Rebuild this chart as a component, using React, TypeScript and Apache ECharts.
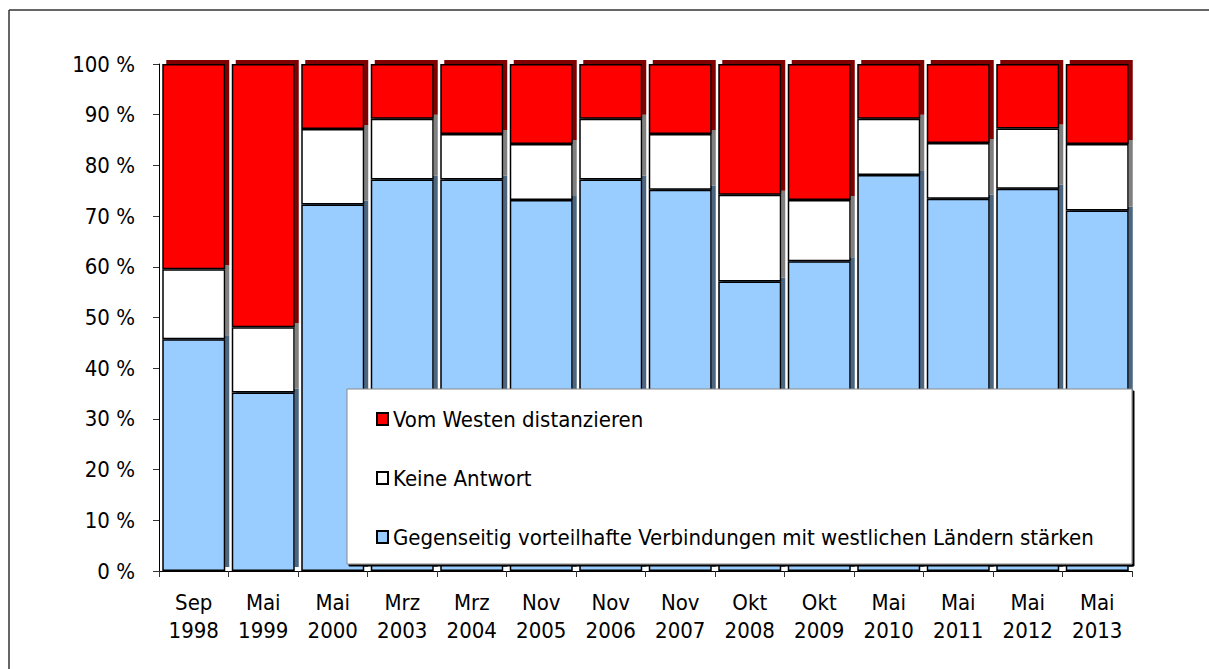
import React, { useEffect, useRef } from "react";
import * as echarts from "echarts";

const categories = [
  "Sep\n1998", "Mai\n1999", "Mai\n2000", "Mrz\n2003", "Mrz\n2004", "Nov\n2005", "Nov\n2006",
  "Nov\n2007", "Okt\n2008", "Okt\n2009", "Mai\n2010", "Mai\n2011", "Mai\n2012", "Mai\n2013",
];
const staerken = [45.7, 35.2, 72.3, 77.2, 77.2, 73.2, 77.2, 75.2, 57.1, 61.1, 78.1, 73.4, 75.4, 71.1];
const keineAntwort = [13.8, 12.9, 14.9, 12.0, 9.0, 11.0, 12.0, 11.0, 17.1, 12.1, 11.1, 11.0, 11.9, 13.1];
const distanzieren = [40.5, 51.9, 12.8, 10.8, 13.8, 15.8, 10.8, 13.8, 25.8, 26.8, 10.8, 15.6, 12.7, 15.8];
const seriesNames = [
  "Gegenseitig vorteilhafte Verbindungen mit westlichen Ländern stärken",
  "Keine Antwort",
  "Vom Westen distanzieren",
];
const yTicks = [0, 10, 20, 30, 40, 50, 60, 70, 80, 90, 100];

const FONT = "'DejaVu Sans Condensed', 'Liberation Sans Narrow', sans-serif";

export default function App() {
  const ref = useRef<HTMLDivElement>(null);
  useEffect(() => {
    if (!ref.current) return;
    const chart = echarts.init(ref.current, undefined, { renderer: "svg" });
    const mk = (name: string, data: number[], color: string, side: string) => ({
      name,
      type: "bar",
      stack: "total",
      data,
      barWidth: 63,
      itemStyle: {
        color,
        borderColor: "#000",
        borderWidth: 1.5,
        shadowColor: side,
        shadowBlur: 0,
        shadowOffsetX: 4,
        shadowOffsetY: -4,
      },
    });
    chart.setOption({
      animation: false,
      backgroundColor: "#fff",
      textStyle: { fontFamily: FONT },
      grid: { left: 159, top: 64, width: 973, height: 507, containLabel: false },
      xAxis: {
        type: "category",
        data: categories,
        boundaryGap: true,
        axisLine: { lineStyle: { color: "#000", width: 1 } },
        axisTick: { show: true, length: 6, lineStyle: { color: "#333" } },
        axisLabel: {
          color: "#000",
          fontSize: 22,
          lineHeight: 28,
          margin: 17,
          fontFamily: FONT,
          interval: 0,
        },
      },
      yAxis: {
        type: "value",
        min: 0,
        max: 100,
        interval: 10,
        splitLine: { show: false },
        axisLine: { show: true, lineStyle: { color: "#000", width: 1 } },
        axisTick: { show: true, length: 6, lineStyle: { color: "#333" } },
        axisLabel: {
          color: "#000",
          fontSize: 22,
          margin: 24,
          fontFamily: FONT,
          formatter: (v: number) => (yTicks.includes(v) ? `${v} %` : ""),
        },
      },
      legend: {
        orient: "vertical",
        left: 347 + 29,
        top: 389 + 19,
        padding: 0,
        icon: "rect",
        itemWidth: 11,
        itemHeight: 12,
        itemGap: 37,
        z: 20,
        data: [seriesNames[2], seriesNames[1], seriesNames[0]],
        itemStyle: { borderColor: "#000", borderWidth: 2, shadowColor: "transparent", shadowOffsetX: 0, shadowOffsetY: 0 },
        textStyle: { fontSize: 22, lineHeight: 22, color: "#000", fontFamily: FONT },
        selectedMode: false,
      },
      graphic: [
        {
          type: "rect",
          z: 15,
          shape: { x: 347, y: 389, width: 785, height: 175 },
          style: {
            fill: "#fff",
            stroke: "#888",
            lineWidth: 1,
            shadowColor: "#000",
            shadowBlur: 0,
            shadowOffsetX: 2,
            shadowOffsetY: 2,
          },
        },
        { type: "line", z: 20, shape: { x1: 9, y1: 10, x2: 1209, y2: 10 }, style: { stroke: "#333", lineWidth: 1.5 } },
        { type: "line", z: 20, shape: { x1: 9, y1: 10, x2: 9, y2: 669 }, style: { stroke: "#333", lineWidth: 1.5 } },
      ],
      series: [
        mk(seriesNames[0], staerken, "#99ccff", "#4d6680"),
        mk(seriesNames[1], keineAntwort, "#ffffff", "#808080"),
        mk(seriesNames[2], distanzieren, "#ff0000", "#800000"),
      ],
    });
    return () => chart.dispose();
  }, []);
  return <div ref={ref} style={{ position: "absolute", left: 0, top: 0, width: 1209, height: 669 }} />;
}
